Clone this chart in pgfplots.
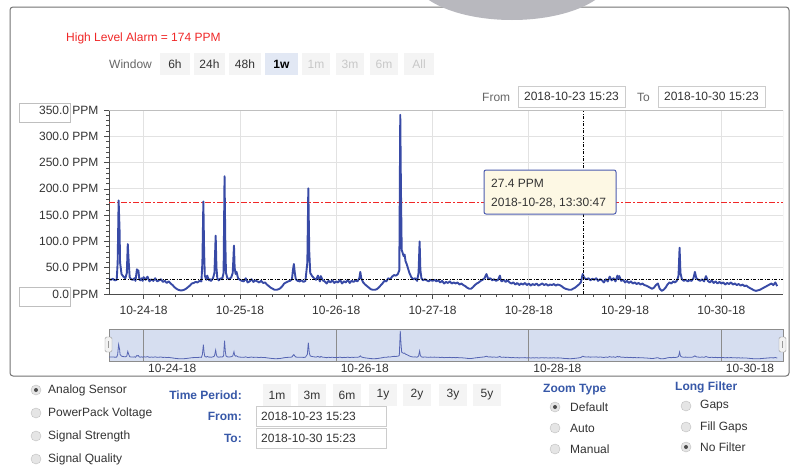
\documentclass[border=0pt]{standalone}
\usepackage{pgfplots}
\pgfplotsset{compat=1.18}
\usepackage{pgfplotstable}
\usepackage{fontspec}
\setmainfont{Liberation Sans}

\definecolor{mainblue}{RGB}{56,74,166}
\definecolor{alarmred}{RGB}{240,40,40}
\definecolor{gridgray}{RGB}{226,226,226}
\definecolor{labelblue}{RGB}{55,88,168}
\definecolor{navfill}{RGB}{214,222,240}
\definecolor{tipbg}{RGB}{253,248,228}
\definecolor{txt}{RGB}{51,51,51}
\definecolor{btnbg}{RGB}{244,244,244}
\definecolor{btnsel}{RGB}{226,232,244}
\definecolor{dis}{RGB}{200,200,200}
\definecolor{lens}{RGB}{184,184,190}

\newcommand{\ui}{\fontsize{12}{14}\selectfont}

\pgfplotstableread{
d ppm
-0.36 28
-0.34 27
-0.32 29
-0.30 26
-0.28 27
-0.27 60
-0.26 178
-0.25 120
-0.245 60
-0.23 38
-0.21 33
-0.19 30
-0.175 40
-0.165 95
-0.155 60
-0.145 32
-0.13 28
-0.11 27
-0.095 30
-0.085 25
-0.07 47
-0.062 42
-0.055 45
-0.045 28
-0.035 26
-0.02 30
-0.01 25
0.00 32
0.02 27
0.04 33
0.06 24
0.08 28
0.10 25
0.12 30
0.14 24
0.16 26
0.18 28
0.20 23
0.22 25
0.24 21
0.26 24
0.28 20
0.30 17
0.32 13
0.34 10
0.36 8
0.38 7
0.40 7
0.42 8
0.44 10
0.46 13
0.48 16
0.50 20
0.52 21
0.54 23
0.56 22
0.58 25
0.60 24
0.61 60
0.62 176
0.628 80
0.635 35
0.65 27
0.66 35
0.67 30
0.68 26
0.69 28
0.70 25
0.72 30
0.735 40
0.748 111
0.756 50
0.765 30
0.78 26
0.80 30
0.815 28
0.83 40
0.84 224
0.848 100
0.855 40
0.87 30
0.89 28
0.91 32
0.925 40
0.938 92
0.945 50
0.955 38
0.965 42
0.98 30
1.00 27
1.02 25
1.04 24
1.06 30
1.08 22
1.10 24
1.12 28
1.14 23
1.16 26
1.18 24
1.20 22
1.22 25
1.24 21
1.26 22
1.28 18
1.30 15
1.32 12
1.34 10
1.36 8
1.38 8
1.40 9
1.42 11
1.44 15
1.46 20
1.48 22
1.50 24
1.52 25
1.54 28
1.55 45
1.56 57
1.57 40
1.58 28
1.60 25
1.62 24
1.64 26
1.66 23
1.68 25
1.70 60
1.71 201
1.72 80
1.73 40
1.75 34
1.77 30
1.79 27
1.81 35
1.83 24
1.84 34
1.86 26
1.88 24
1.90 20
1.92 25
1.94 22
1.96 26
1.98 21
2.00 24
2.02 22
2.04 27
2.06 20
2.08 24
2.10 22
2.12 27
2.14 21
2.16 25
2.18 23
2.20 26
2.22 24
2.24 30
2.25 42
2.26 30
2.28 22
2.30 18
2.32 15
2.34 12
2.36 9
2.38 8
2.40 8
2.42 9
2.44 12
2.46 16
2.48 20
2.50 25
2.52 24
2.54 30
2.56 28
2.58 33
2.60 36
2.62 35
2.64 38
2.655 45
2.665 341
2.672 200
2.68 84
2.69 78
2.70 72
2.71 75
2.72 62
2.73 58
2.74 52
2.76 40
2.78 32
2.80 28
2.82 30
2.84 25
2.855 40
2.866 100
2.874 45
2.885 30
2.90 26
2.92 28
2.94 26
2.96 24
2.98 27
3.00 25
3.02 27
3.04 24
3.06 26
3.08 22
3.10 25
3.12 20
3.14 23
3.16 21
3.18 24
3.20 20
3.22 22
3.24 20
3.26 22
3.28 18
3.30 20
3.32 17
3.34 15
3.36 12
3.38 10
3.40 10
3.42 13
3.44 17
3.46 20
3.48 22
3.50 25
3.52 27
3.54 30
3.56 38
3.57 33
3.58 28
3.60 30
3.62 26
3.64 28
3.66 25
3.68 27
3.70 35
3.71 26
3.72 24
3.74 27
3.76 23
3.78 26
3.80 22
3.82 20
3.84 22
3.86 18
3.88 21
3.90 17
3.92 20
3.94 18
3.96 21
3.98 17
4.00 20
4.02 16
4.04 19
4.06 17
4.08 20
4.10 16
4.12 18
4.14 20
4.16 17
4.18 19
4.20 16
4.22 18
4.24 17
4.26 19
4.28 16
4.30 18
4.32 17
4.34 15
4.36 12
4.38 10
4.40 9
4.42 8
4.44 8
4.46 10
4.48 12
4.50 15
4.52 18
4.54 22
4.56 38
4.57 33
4.58 30
4.60 28
4.62 30
4.64 26
4.66 29
4.68 27
4.70 30
4.72 25
4.74 28
4.76 26
4.78 22
4.80 28
4.82 24
4.84 33
4.86 26
4.88 30
4.90 24
4.92 35
4.93 28
4.94 34
4.96 25
4.98 27
5.00 22
5.02 25
5.04 21
5.06 24
5.08 20
5.10 22
5.12 19
5.14 21
5.16 18
5.18 20
5.20 17
5.22 16
5.24 14
5.26 12
5.28 10
5.30 12
5.32 17
5.34 20
5.36 10
5.38 6
5.40 8
5.42 12
5.44 18
5.46 22
5.48 20
5.50 24
5.52 22
5.54 26
5.555 35
5.566 88
5.575 40
5.59 28
5.61 25
5.63 27
5.65 24
5.67 26
5.69 25
5.71 30
5.725 42
5.74 30
5.76 27
5.78 25
5.80 28
5.82 24
5.84 34
5.86 25
5.88 22
5.90 26
5.92 21
5.94 24
5.96 20
5.98 23
6.00 20
6.02 22
6.04 18
6.06 21
6.08 19
6.10 22
6.12 18
6.14 20
6.16 17
6.18 19
6.20 16
6.22 18
6.24 15
6.26 16
6.28 13
6.30 11
6.32 9
6.34 7
6.36 6
6.38 7
6.40 8
6.42 10
6.44 12
6.46 14
6.48 16
6.50 18
6.52 20
6.54 17
6.56 22
6.58 15
}\datatable

\begin{document}
\begin{tikzpicture}
\path[use as bounding box, fill=white] (0pt,0pt) rectangle (795pt,-466pt);
\begin{scope}[x=1pt,y=-1pt]
  % outer frame
  \draw[black!55, line width=1pt, rounded corners=3pt] (10,7) rectangle (789,376);
  % lens shape at top
  \fill[lens] (512,-25) ellipse (100 and 45);
  % alarm text
  \node[anchor=west, text=alarmred, inner sep=0pt, font=\ui] at (66,38) {High Level Alarm = 174 PPM};
  % window buttons
  \node[anchor=west, text=black!60, inner sep=0pt, font=\ui] at (109,64) {Window};
  \foreach \a/\b in {160/190,194/225,229/261,302/330,336/364,370/398,404/434}
    \fill[btnbg] (\a,53) rectangle (\b,75);
  \fill[btnsel] (265,53) rectangle (298,75);
  \foreach \xx/\t in {175/6h,209.5/24h,245/48h}
    \node[text=txt, font=\ui] at (\xx,64) {\t};
  \node[text=black, font=\ui\bfseries] at (281.5,64) {1w};
  \foreach \xx/\t in {316/1m,350/3m,384/6m,419/All}
    \node[text=dis, font=\ui] at (\xx,64) {\t};
  % from / to
  \node[anchor=west, text=black!60, inner sep=0pt, font=\ui] at (482,97) {From};
  \draw[black!20, fill=white] (518,86) rectangle (625,107);
  \node[text=txt, font=\ui] at (571.5,96.5) {2018-10-23 15:23};
  \node[anchor=west, text=black!60, inner sep=0pt, font=\ui] at (637,97) {To};
  \draw[black!20, fill=white] (658,86) rectangle (765,107);
  \node[text=txt, font=\ui] at (711.5,96.5) {2018-10-30 15:23};
  % y label boxes
  \draw[black!25, fill=white] (19,103) rectangle (70,122);
  \draw[black!25, fill=white] (19,287) rectangle (70,306);
\end{scope}

% main axis
\begin{axis}[
  at={(109pt,-294pt)}, anchor=south west, scale only axis,
  width=674pt, height=184pt,
  xmin=-0.36, xmax=6.64, ymin=0, ymax=350,
  axis lines=left, axis line style={-, draw=black!70, line width=0.8pt},
  xtick={0,1,2,3,4,5,6},
  xticklabels={10-24-18,10-25-18,10-26-18,10-27-18,10-28-18,10-29-18,10-30-18},
  minor x tick num=5,
  ytick={0,50,100,150,200,250,300,350}, minor y tick num=4,
  tick align=outside, major tick length=5pt, minor tick length=3pt,
  tick style={black!70, line width=0.6pt},
  grid=major, major grid style={gridgray, line width=0.8pt},
  /pgf/number format/assume math mode=true,
  yticklabel={\pgfmathprintnumber[fixed,fixed zerofill,precision=1]{\tick}~PPM},
  ticklabel style={font=\ui, text=txt},
  yticklabel style={xshift=-2pt},
  xticklabel style={yshift=-4pt},
]
\addplot[alarmred, line width=1.4pt, dash pattern=on 6pt off 2pt on 2pt off 2pt] coordinates {(-0.36,174) (6.64,174)};
\addplot[mainblue, line width=1.9pt, line join=round] table[x=d,y=ppm]{\datatable};
\addplot[black, line width=0.8pt, dash pattern=on 3pt off 1.5pt on 1pt off 1.5pt] coordinates {(-0.36,27.4) (6.64,27.4)};
\addplot[black, line width=0.8pt, dash pattern=on 3pt off 1.5pt on 1pt off 1.5pt] coordinates {(4.5625,0) (4.5625,350)};
\draw[black!25, line width=0.8pt] (rel axis cs:0,1) -- (rel axis cs:1,1) -- (rel axis cs:1,0);
\end{axis}

% navigator
\begin{axis}[
  at={(109pt,-361pt)}, anchor=south west, scale only axis,
  width=674pt, height=32pt,
  xmin=-0.36, xmax=6.64, ymin=-20, ymax=365,
  axis background/.style={fill=navfill},
  axis line style={black!45, line width=0.8pt},
  ytick=\empty, xtick={0,2,4,6},
  xticklabels={10-24-18,10-26-18,10-28-18,10-30-18},
  xticklabel style={anchor=north west, font=\ui, text=txt, xshift=1pt},
  major tick length=0pt,
  xmajorgrids, major grid style={black!45, line width=1pt},
]
\addplot[mainblue!85, line width=0.8pt] table[x=d,y=ppm]{\datatable};
\end{axis}

\begin{scope}[x=1pt,y=-1pt]
  % tooltip
  \draw[mainblue!90, fill=tipbg, line width=1pt, rounded corners=2pt] (484,170) rectangle (616,214);
  \node[anchor=west, text=txt, inner sep=0pt, font=\ui] at (491,183) {27.4 PPM};
  \node[anchor=west, text=txt, inner sep=0pt, font=\ui] at (491,203) {2018-10-28, 13:30:47};
  % navigator handles
  \foreach \hx in {105,779} {
    \draw[black!40, fill=black!5, rounded corners=1.5pt] (\hx,337) rectangle (\hx+7,352);
    \draw[black!40] (\hx+3.5,341) -- (\hx+3.5,348);
  }
  % radio buttons left column
  \foreach \yy/\t in {390/Analog Sensor,413/PowerPack Voltage,436/Signal Strength,459/Signal Quality} {
    \draw[black!25, fill=black!10] (36,\yy) circle (5);
    \node[anchor=west, text=txt, inner sep=0pt, font=\ui] at (48,\yy) {\t};
  }
  \fill[black!70] (36,390) circle (2);
  % time period
  \node[anchor=east, text=labelblue, inner sep=0pt, font=\ui\bfseries] at (242,395) {Time Period:};
  \foreach \xx/\t in {277/1m,312/3m,347/6m,383/1y,417/2y,453/3y,487/5y} {
    \fill[btnbg] (\xx-14,384) rectangle (\xx+14,406);
    \node[text=txt, font=\ui] at (\xx,395) {\t};
  }
  \node[anchor=east, text=labelblue, inner sep=0pt, font=\ui\bfseries] at (242,416) {From:};
  \draw[black!20, fill=white] (256,406) rectangle (386,426);
  \node[anchor=west, text=txt, inner sep=0pt, font=\ui] at (261,416) {2018-10-23 15:23};
  \node[anchor=east, text=labelblue, inner sep=0pt, font=\ui\bfseries] at (242,438) {To:};
  \draw[black!20, fill=white] (256,428) rectangle (386,448);
  \node[anchor=west, text=txt, inner sep=0pt, font=\ui] at (261,438) {2018-10-30 15:23};
  % zoom type
  \node[anchor=west, text=labelblue, inner sep=0pt, font=\ui\bfseries] at (543,390) {Zoom Type};
  \foreach \yy/\t in {407/Default,428/Auto,449/Manual} {
    \draw[black!25, fill=black!10] (555,\yy) circle (5);
    \node[anchor=west, text=txt, inner sep=0pt, font=\ui] at (570,\yy) {\t};
  }
  \fill[black!70] (555,407) circle (2);
  % long filter
  \node[anchor=west, text=labelblue, inner sep=0pt, font=\ui\bfseries] at (675,387) {Long Filter};
  \foreach \yy/\t in {406/Gaps,427/Fill Gaps,447/No Filter} {
    \draw[black!25, fill=black!10] (686,\yy) circle (5);
    \node[anchor=west, text=txt, inner sep=0pt, font=\ui] at (700,\yy) {\t};
  }
  \fill[black!70] (686,447) circle (2);
\end{scope}
\end{tikzpicture}
\end{document}
